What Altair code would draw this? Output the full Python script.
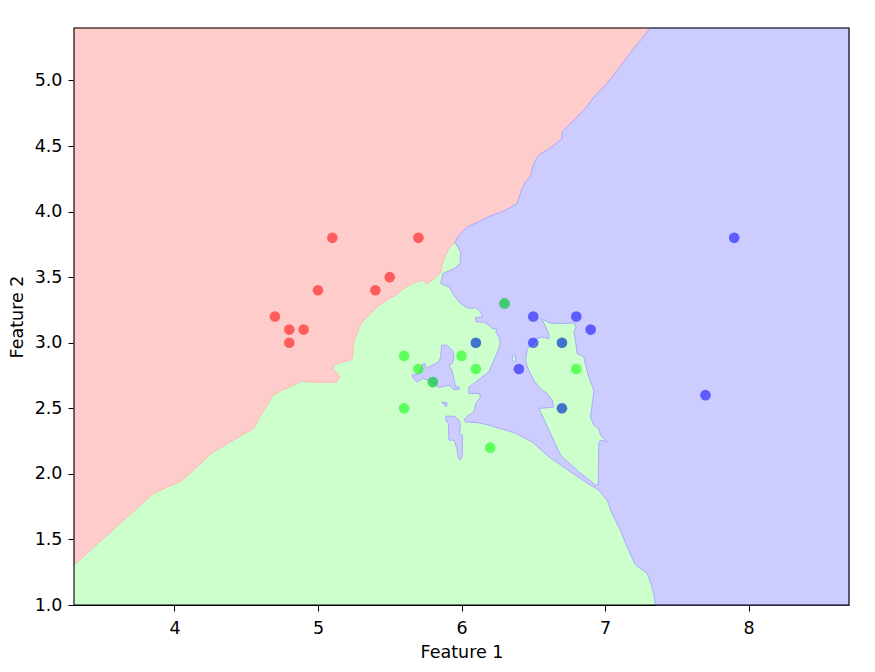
import altair as alt
import pandas as pd

XLIM = [3.3, 8.7]
YLIM = [1.0, 5.4]
X_TICKS = [4, 5, 6, 7, 8]
Y_TICKS = [1.0, 1.5, 2.0, 2.5, 3.0, 3.5, 4.0, 4.5, 5.0]

# red / blue boundary, from the top edge down to the triple point
RB_X = [7.316, 7.258, 7.165, 7.096, 7.003, 6.934, 6.864, 6.794, 6.748, 6.701, 6.701, 6.632, 6.539, 6.516,
        6.493, 6.481, 6.447, 6.423, 6.400, 6.388, 6.330, 6.284, 6.191, 6.122, 6.040, 6.006, 5.970, 5.955]
RB_Y = [5.400, 5.320, 5.193, 5.091, 4.964, 4.888, 4.787, 4.710, 4.659, 4.609, 4.558, 4.495, 4.431, 4.393,
        4.330, 4.266, 4.228, 4.177, 4.101, 4.063, 4.025, 4.000, 3.962, 3.923, 3.885, 3.847, 3.800, 3.765]

# red / green boundary, from the triple point to the left edge
RG_X = [5.948, 5.913, 5.890, 5.866, 5.855, 5.809, 5.762, 5.727, 5.681, 5.612, 5.542, 5.496, 5.426, 5.368,
        5.299, 5.252, 5.240, 5.222, 5.118, 5.106, 5.153, 5.129, 4.955, 4.886, 4.805, 4.758, 4.689, 4.596,
        4.550, 4.271, 4.051, 3.854, 3.300]
RG_Y = [3.758, 3.720, 3.667, 3.603, 3.537, 3.489, 3.451, 3.476, 3.463, 3.425, 3.362, 3.337, 3.286, 3.222,
        3.146, 3.019, 2.880, 2.867, 2.836, 2.803, 2.739, 2.699, 2.699, 2.707, 2.663, 2.643, 2.600, 2.435,
        2.346, 2.168, 1.947, 1.851, 1.305]

# green / blue boundary, from the triple point to the bottom edge
GB_X = [5.971, 5.994, 5.990, 5.948, 5.871, 5.855, 5.913, 5.948, 5.983, 6.029, 6.064, 6.099, 6.134, 6.145,
        6.099, 6.103, 6.157, 6.191, 6.214, 6.249, 6.238, 6.261, 6.270, 6.255, 6.191, 6.099, 6.052, 6.052,
        6.122, 6.134, 6.099, 6.087, 6.040, 6.017, 6.029, 6.122, 6.191, 6.307, 6.377, 6.493, 6.609, 6.725,
        6.864, 6.957, 7.014, 7.049, 7.107, 7.153, 7.212, 7.293, 7.316, 7.339, 7.351]
GB_Y = [3.735, 3.690, 3.603, 3.565, 3.527, 3.451, 3.425, 3.362, 3.311, 3.273, 3.261, 3.268, 3.235, 3.197,
        3.192, 3.158, 3.158, 3.133, 3.108, 3.103, 3.082, 3.044, 2.994, 2.940, 2.778, 2.701, 2.663, 2.613,
        2.613, 2.587, 2.537, 2.473, 2.440, 2.410, 2.397, 2.389, 2.371, 2.333, 2.310, 2.244, 2.130, 2.042,
        1.939, 1.876, 1.800, 1.699, 1.571, 1.444, 1.305, 1.242, 1.178, 1.089, 1.000]

# green peninsula inside the blue region
PEN_X = [6.558, 6.609, 6.701, 6.783, 6.799, 6.783, 6.794, 6.806, 6.852, 6.868, 6.887, 6.922, 6.915, 6.899,
         6.922, 6.957, 6.968, 7.014, 6.968, 6.957, 6.952, 6.936, 6.817, 6.725, 6.690, 6.539, 6.643, 6.632,
         6.597, 6.562, 6.539, 6.504, 6.481, 6.458, 6.447, 6.458, 6.504, 6.527, 6.562, 6.609, 6.609]
PEN_Y = [3.184, 3.151, 3.146, 3.151, 3.120, 3.082, 3.019, 2.918, 2.892, 2.816, 2.739, 2.638, 2.562, 2.435,
         2.371, 2.346, 2.295, 2.244, 2.257, 2.232, 1.914, 1.914, 2.016, 2.105, 2.143, 2.499, 2.509, 2.562,
         2.613, 2.638, 2.663, 2.714, 2.765, 2.816, 2.867, 2.956, 2.994, 3.032, 3.044, 3.032, 3.070]

# tiny green hole inside the blue region
HOLE_X = [6.352, 6.360, 6.375, 6.378, 6.362]
HOLE_Y = [2.875, 2.905, 2.900, 2.860, 2.852]

# blue islands inside the green region
ISA_X = [5.654, 5.704, 5.727, 5.746, 5.751, 5.843, 5.855, 5.862, 5.901, 5.936, 5.948, 5.936, 5.913,
         5.936, 5.948, 5.960, 5.983, 5.983, 5.948, 5.913, 5.843, 5.821, 5.774, 5.727, 5.692, 5.670]
ISA_Y = [2.752, 2.765, 2.836, 2.842, 2.803, 2.854, 2.892, 2.981, 2.981, 2.943, 2.892, 2.842, 2.829,
         2.778, 2.714, 2.663, 2.663, 2.643, 2.643, 2.676, 2.659, 2.676, 2.714, 2.727, 2.701, 2.720]
ISB_X = [5.890, 5.948, 5.983, 5.994, 5.983, 6.006, 6.006, 5.994, 5.978, 5.971, 5.948, 5.913, 5.908, 5.890]
ISB_Y = [2.440, 2.440, 2.410, 2.359, 2.308, 2.295, 2.143, 2.105, 2.118, 2.181, 2.257, 2.257, 2.384, 2.410]
ISC_X = [5.862, 5.901, 5.892]
ISC_Y = [2.549, 2.539, 2.511]

# scatter points
PT_X = [4.7, 4.8, 4.8, 4.9, 5.0, 5.1, 5.4, 5.5, 5.7,
        5.6, 5.6, 5.7, 5.8, 6.0, 6.1, 6.2, 6.3, 6.8,
        6.1, 6.5, 6.5, 6.4, 6.7, 6.8, 6.9, 6.7, 7.9, 7.7]
PT_Y = [3.2, 3.1, 3.0, 3.1, 3.4, 3.8, 3.4, 3.5, 3.8,
        2.9, 2.5, 2.8, 2.7, 2.9, 2.8, 2.2, 3.3, 2.8,
        3.0, 3.2, 3.0, 2.8, 3.0, 3.2, 3.1, 2.5, 3.8, 2.6]
PT_C = ["0"] * 9 + ["1"] * 9 + ["2"] * 10

# points hidden under another point of the other class
UNDER_X = [6.3, 5.8, 6.1, 6.7, 6.7]
UNDER_Y = [3.3, 2.7, 3.0, 3.0, 2.5]
UNDER_C = ["2", "2", "1", "1", "1"]

CLASSES = ["0", "1", "2"]
POINT_COLORS = ["#FF0000", "#00FF00", "#0000FF"]


def poly_frame(name, xs, ys):
    return pd.DataFrame({"x": xs, "y": ys, "i": list(range(len(xs))), "poly": name})


red_df = poly_frame("red", [XLIM[0]] + RB_X + RG_X, [YLIM[1]] + RB_Y + RG_Y)
blue_df = pd.concat([
    poly_frame("blue", [XLIM[1]] + RB_X + GB_X + [XLIM[1]], [YLIM[1]] + RB_Y + GB_Y + [YLIM[0]]),
    poly_frame("isa", ISA_X, ISA_Y),
    poly_frame("isb", ISB_X, ISB_Y),
    poly_frame("isc", ISC_X, ISC_Y),
])
green_df = pd.concat([
    poly_frame("pen", PEN_X, PEN_Y),
    poly_frame("hole", HOLE_X, HOLE_Y),
])
bg_df = pd.DataFrame({"x": [XLIM[0]], "x2": [XLIM[1]], "y": [YLIM[0]], "y2": [YLIM[1]]})
pts_df = pd.DataFrame({"x": PT_X, "y": PT_Y, "cls": PT_C})
under_df = pd.DataFrame({"x": UNDER_X, "y": UNDER_Y, "cls": UNDER_C})

x_scale = alt.Scale(domain=XLIM, nice=False, zero=False)
y_scale = alt.Scale(domain=YLIM, nice=False, zero=False)
X = alt.X("x:Q", scale=x_scale,
          axis=alt.Axis(values=X_TICKS, format="d", title="Feature 1", grid=False))
Y = alt.Y("y:Q", scale=y_scale,
          axis=alt.Axis(values=Y_TICKS, format=".1f", title="Feature 2", grid=False))
C = alt.Color("cls:N", scale=alt.Scale(domain=CLASSES, range=POINT_COLORS), legend=None)

bg = alt.Chart(bg_df).mark_rect(color="#CCFFCC").encode(x=X, x2="x2:Q", y=Y, y2="y2:Q")

red = alt.Chart(red_df).mark_line(
    filled=True, interpolate="linear-closed", color="#FFCCCC", stroke="#FFB8B8", strokeWidth=1
).encode(x=X, y=Y, order="i:Q", detail="poly:N")

blue = alt.Chart(blue_df).mark_line(
    filled=True, interpolate="linear-closed", color="#CCCCFF", stroke="#AAAAFF", strokeWidth=1
).encode(x=X, y=Y, order="i:Q", detail="poly:N")

green = alt.Chart(green_df).mark_line(
    filled=True, interpolate="linear-closed", color="#CCFFCC", stroke="#AAAAFF", strokeWidth=1
).encode(x=X, y=Y, order="i:Q", detail="poly:N")

frame = alt.Chart(bg_df).mark_rect(filled=False, stroke="black", strokeWidth=1.1).encode(
    x=X, x2="x2:Q", y=Y, y2="y2:Q"
)

under = alt.Chart(under_df).mark_circle(size=113, opacity=0.3).encode(x=X, y=Y, color=C)
pts = alt.Chart(pts_df).mark_circle(size=113, opacity=0.55).encode(x=X, y=Y, color=C)

chart = alt.layer(bg, red, blue, green, frame, under, pts).properties(
    width=775, height=577,
    autosize=alt.AutoSizeParams(type="none"),
    padding={"left": 74, "top": 28, "right": 26, "bottom": 67},
).configure_view(
    stroke=None
).configure_axis(
    labelFont="DejaVu Sans", labelFontSize=17.5, labelColor="black",
    titleFont="DejaVu Sans", titleFontSize=17.5, titleFontWeight="normal", titleColor="black",
    domainColor="black", domainWidth=1, tickColor="black", tickSize=6, tickWidth=1,
).configure_axisX(
    labelPadding=8, titlePadding=7
).configure_axisY(
    labelPadding=6, titlePadding=8
)

chart.save("out.html", embed_options={"renderer": "svg", "actions": False})
